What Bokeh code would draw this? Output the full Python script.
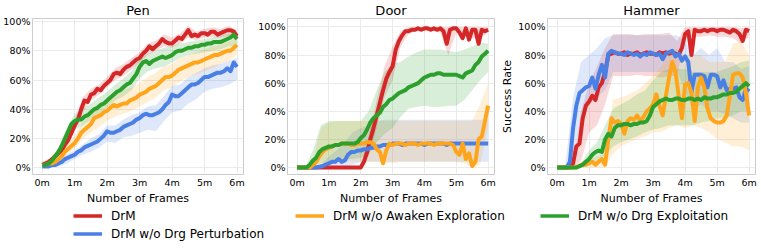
from bokeh.plotting import figure
from bokeh.layouts import row, column
from bokeh.models import FixedTicker, Legend, LegendItem, Range1d
from bokeh.embed import file_html
from bokeh.resources import INLINE

# ---------------- data ----------------
frames = [round(i * 0.1, 1) for i in range(61)]          # millions of frames
band_frames = [i * 0.25 for i in range(25)]
x_ticks = [0, 1, 2, 3, 4, 5, 6]
x_tick_labels = ["0m", "1m", "2m", "3m", "4m", "5m", "6m"]
y_ticks = [0, 20, 40, 60, 80, 100]
y_tick_labels = ["0%", "20%", "40%", "60%", "80%", "100%"]
titles = ["Pen", "Door", "Hammer"]
methods = ["DrM", "DrM w/o Drg Perturbation", "DrM w/o Awaken Exploration", "DrM w/o Drg Exploitation"]
colors = ["#d62728", "#4a7fe5", "#ffa51c", "#2ca02c"]

# Pen
pen_drm = [2,3,4,6,8,10,12,16,19,24, 29,33,40,46,45,50,51,54,53,56, 58,60,64,65,64,67,69,70,72,74,
           75,78,80,83,81,83,85,88,86,85, 85,87,89,88,91,94,90,91,90,92, 92,91,93,93,91,92,93,94,94,93, 90]
pen_perturb = [1,1,1,2,2,3,4,6,7,8, 9,11,12,14,15,16,17,18,20,22, 25,24,24,25,26,28,29,30,31,33,
               34,36,37,36,36,37,38,40,43,45, 50,49,49,51,53,55,57,57,58,60, 62,62,63,64,65,65,66,68,66,72, 69]
pen_awaken = [2,2,3,3,4,6,8,11,13,15, 17,20,24,26,28,30,34,35,36,38, 39,41,43,42,43,44,44,46,47,48,
              50,51,52,54,55,56,58,60,62,62, 63,65,67,68,69,70,71,72,72,73, 74,75,76,77,77,78,79,80,80,82, 84]
pen_exploit = [2,2,3,5,8,11,15,20,25,30, 32,33,33,35,36,38,40,41,43,44, 46,48,50,52,53,55,57,58,61,64,
               69,72,73,71,73,74,75,76,75,76, 77,79,80,80,81,82,82,83,83,84, 84,85,85,86,86,86,87,88,89,91, 88]
pen_drm_lo = [0,3,8,14,25,38,46,50,55,60,63,67,72,77,80,83,82,85,89,87,89,89,89,90,87]
pen_drm_hi = [4,7,12,20,33,48,54,57,62,68,71,75,79,85,87,91,89,92,97,93,95,96,95,97,94]
pen_perturb_lo = [0,0,1,3,6,9,11,14,18,17,21,22,24,26,25,32,38,39,44,47,52,54,55,57,60]
pen_perturb_hi = [2,2,5,9,12,16,20,23,29,29,33,36,38,42,43,49,56,57,62,65,68,70,71,73,75]
pen_awaken_lo = [1,2,4,9,13,20,24,28,32,35,37,39,42,45,48,53,55,59,62,64,66,68,71,73,77]
pen_awaken_hi = [3,5,9,16,22,31,37,43,47,50,53,55,58,62,65,69,71,75,77,79,81,83,84,86,89]
pen_exploit_lo = [0,2,8,17,26,29,33,37,41,46,49,53,61,66,68,69,72,75,77,78,79,80,81,83,83]
pen_exploit_hi = [4,6,14,27,37,40,44,48,52,57,61,66,75,78,80,82,83,85,86,87,88,89,90,92,92]

# Door
door_drm = [0,0,0,0,0,0,0,0,0,0, 0,0,0,0,0,0,0,0,0,0, 0,4,11,20,28,37,46,55,63,68,
            72,84,90,94,97,97,98,98,99,98, 99,99,98,99,98,99,97,88,98,99, 99,96,92,99,91,98,98,88,98,97, 98]
door_perturb = [0,0,0,0,0,0,0,0.5,1,2, 3,4,4,6,4,5,9,11,11,12, 12,13,13,14,14,15,15,16,16,16,
                17,17,17,16,17,17,17,17,17,17, 16,17,17,17,17,17,17,16,17,17, 17,17,17,17,17,17,17,17,17,17, 17]
door_awaken = [0,0,0,0,0,2,4,8,11,13, 14,15,16,16,17,17,17,16,16,17, 17,17,18,18,17,13,11,3,12,17,
               16,17,17,17,16,17,17,17,16,17, 17,17,17,16,17,17,17,17,17,16, 11,9,17,6,10,1,4,20,22,33, 44]
door_exploit = [0,0,0,0,2,5,7,11,13,14, 15,15,16,16,17,17,17,17,17,18, 21,23,27,32,35,37,39,43,45,48,
                49,51,53,54,55,57,58,59,60,62, 64,65,66,66,67,67,66,66,66,66, 66,65,64,67,68,69,73,75,79,81, 83]
door_drm_lo = [0,0,0,0,0,0,0,0,0,8,28,50,62,86,95,97,97,97,96,80,96,93,92,92,96]
door_drm_hi = [0,0,0,0,0,0,0,0,1,22,48,72,86,97,100,100,100,100,100,100,100,100,100,100,100]
door_perturb_lo = [0,0,0,0,0,0,0,2,4,4,4,4,4,4,4,4,4,4,4,4,4,4,4,4,4]
door_perturb_hi = [0,0,0,2,8,12,18,25,28,30,33,34,34,34,34,34,34,34,34,34,34,34,34,34,34]
door_awaken_lo = [0,0,0,2,4,4,4,4,4,4,4,3,3,4,4,4,4,4,4,4,4,3,0,2,28]
door_awaken_hi = [0,0,5,28,32,33,33,33,33,33,33,33,33,33,33,33,33,33,33,33,33,33,33,45,60]
door_exploit_lo = [0,0,1,3,4,5,6,6,7,9,18,24,28,36,42,43,44,43,43,44,44,48,55,62,68]
door_exploit_hi = [0,0,12,30,33,33,33,33,33,40,55,68,74,75,79,82,84,84,84,83,82,84,86,89,88]

# Hammer
hammer_drm = [0,0,0,0,0,3,15,17,35,44, 47,51,48,57,60,68,80,81,82,81, 81,82,80,81,81,82,80,81,82,81,
              81,80,82,81,82,81,82,81,80,85, 95,97,80,98,97,97,98,97,98,98, 97,98,98,97,96,98,97,95,90,98, 97]
hammer_perturb = [0,0,0,0,4,28,44,53,55,57, 58,64,56,66,73,64,81,83,82,81, 81,80,82,81,80,81,79,81,80,82,
                  81,80,81,77,81,82,83,79,81,76, 79,75,54,66,66,66,65,57,66,66, 65,57,62,55,56,56,57,50,48,56, 54]
hammer_awaken = [0,0,0,0,0,0,0,1,2,2, 3,4,2,4,6,2,20,35,32,33, 31,24,33,35,34,37,33,36,40,42,
                 45,52,44,37,51,64,75,68,51,35, 59,60,53,33,57,64,57,42,35,33, 32,32,33,37,51,66,67,67,64,53, 37]
hammer_exploit = [0,0,0,0,0,0,0,1,2,4, 6,9,11,12,11,20,24,22,28,30, 30,31,31,30,31,31,32,32,33,37,
                  43,45,47,48,49,48,48,49,49,48, 48,49,49,48,49,48,50,49,49,50, 50,51,52,52,53,53,54,56,58,60, 58]
hammer_drm_lo = [0,0,0,5,25,30,45,65,65,65,66,65,65,64,65,65,92,93,93,94,93,93,92,88,93]
hammer_drm_hi = [0,0,2,40,60,72,85,95,95,95,94,95,95,95,96,90,100,100,100,100,100,100,100,99,100]
hammer_perturb_lo = [0,0,5,35,45,50,55,68,68,68,68,68,68,68,68,68,55,40,45,40,40,38,35,32,32]
hammer_perturb_hi = [0,0,50,75,80,85,92,94,94,94,94,94,94,94,94,94,90,80,85,80,85,75,75,70,72]
hammer_awaken_lo = [0,0,0,0,0,0,0,10,15,18,20,22,25,25,28,30,28,30,28,25,20,18,15,15,12]
hammer_awaken_hi = [0,0,2,4,6,8,10,48,50,52,55,60,65,72,80,85,80,80,80,75,75,75,88,90,80]
hammer_exploit_lo = [0,0,0,0,2,4,8,15,18,20,22,25,27,28,30,30,30,30,32,33,35,35,37,40,40]
hammer_exploit_hi = [0,0,0,3,12,18,30,42,45,48,52,55,62,68,70,70,70,68,68,68,68,70,72,75,76]

panels = [
    ([pen_drm, pen_perturb, pen_awaken, pen_exploit],
     [(pen_drm_lo, pen_drm_hi), (pen_perturb_lo, pen_perturb_hi),
      (pen_awaken_lo, pen_awaken_hi), (pen_exploit_lo, pen_exploit_hi)]),
    ([door_drm, door_perturb, door_awaken, door_exploit],
     [(door_drm_lo, door_drm_hi), (door_perturb_lo, door_perturb_hi),
      (door_awaken_lo, door_awaken_hi), (door_exploit_lo, door_exploit_hi)]),
    ([hammer_drm, hammer_perturb, hammer_awaken, hammer_exploit],
     [(hammer_drm_lo, hammer_drm_hi), (hammer_perturb_lo, hammer_perturb_hi),
      (hammer_awaken_lo, hammer_awaken_hi), (hammer_exploit_lo, hammer_exploit_hi)]),
]

FONT = "DejaVu Sans"
frame_widths = [211, 207, 208]
left_borders = [29, 29, 43]
right_borders = [12, 4, 2]
y_ranges = [(-4.5, 102), (-5, 106), (-5, 106)]

figs = []
for i, (means, bands) in enumerate(panels):
    p = figure(frame_width=frame_widths[i], frame_height=156, output_backend="svg", toolbar_location=None,
               x_range=Range1d(-0.3, 6.2), y_range=Range1d(*y_ranges[i]),
               min_border_left=left_borders[i], min_border_right=right_borders[i],
               min_border_top=0, min_border_bottom=0, title=titles[i])
    p.title.text_font = FONT
    p.title.text_font_size = "13px"
    p.title.text_font_style = "normal"
    p.title.align = "center"
    p.title.text_color = "black"
    p.title.standoff = 1
    p.outline_line_color = "#cccccc"
    p.grid.grid_line_color = "#ebebeb"
    p.grid.grid_line_width = 1
    p.xaxis.ticker = FixedTicker(ticks=x_ticks)
    p.xaxis.major_label_overrides = dict(zip(x_ticks, x_tick_labels))
    p.yaxis.ticker = FixedTicker(ticks=y_ticks)
    p.yaxis.major_label_overrides = dict(zip(y_ticks, y_tick_labels))
    p.xaxis.axis_label = "Number of Frames"
    if i == 2:
        p.yaxis.axis_label = "Success Rate"
    for ax in (p.xaxis, p.yaxis):
        ax.axis_line_color = None
        ax.major_tick_line_color = None
        ax.minor_tick_line_color = None
        ax.major_tick_out = 0
        ax.major_tick_in = 0
        ax.minor_tick_out = 0
        ax.minor_tick_in = 0
        ax.major_label_standoff = 2
        ax.axis_label_standoff = 1
        ax.major_label_text_font = FONT
        ax.major_label_text_font_size = "9.5px"
        ax.major_label_text_color = "black"
        ax.axis_label_text_font = FONT
        ax.axis_label_text_font_size = "11px"
        ax.axis_label_text_font_style = "normal"
        ax.axis_label_text_color = "black"
    for (lo, hi), c in zip(bands, colors):
        p.varea(x=band_frames, y1=lo, y2=hi, fill_color=c, fill_alpha=0.18)
    for m, c in zip(means, colors):
        p.line(frames, m, line_color=c, line_width=4, line_join="round")
    figs.append(p)

# legend strip
lg = figure(width=745, height=36, output_backend="svg", toolbar_location=None,
            x_range=Range1d(0, 1), y_range=Range1d(0, 1), title=None,
            x_axis_location=None, y_axis_location=None,
            min_border_left=0, min_border_right=0, min_border_top=0, min_border_bottom=0)
lg.grid.visible = False
lg.outline_line_color = None
# legend swatches: renderers whose points lie outside the visible range
rends = [lg.line([-2, -1], [-2, -2], line_color=c, line_width=3.5) for c in colors]

def make_legend(idx, loc):
    leg = Legend(items=[LegendItem(label=methods[k], renderers=[rends[k]]) for k in idx],
                 location=loc, orientation="vertical")
    leg.label_text_font = FONT
    leg.label_text_font_size = "12px"
    leg.label_text_color = "black"
    leg.glyph_width = 29
    leg.glyph_height = 15
    leg.label_height = 15
    leg.label_standoff = 9
    leg.spacing = 3
    leg.padding = 0
    leg.margin = 0
    leg.border_line_color = None
    leg.background_fill_alpha = 0
    return leg

lg.add_layout(make_legend([0, 1], (73, 2)), "center")
lg.add_layout(make_legend([2], (295, 20)), "center")
lg.add_layout(make_legend([3], (540, 20)), "center")

layout = column(row(*figs, spacing=0), lg, spacing=0)
open("out.html", "w").write(file_html(layout, INLINE))
